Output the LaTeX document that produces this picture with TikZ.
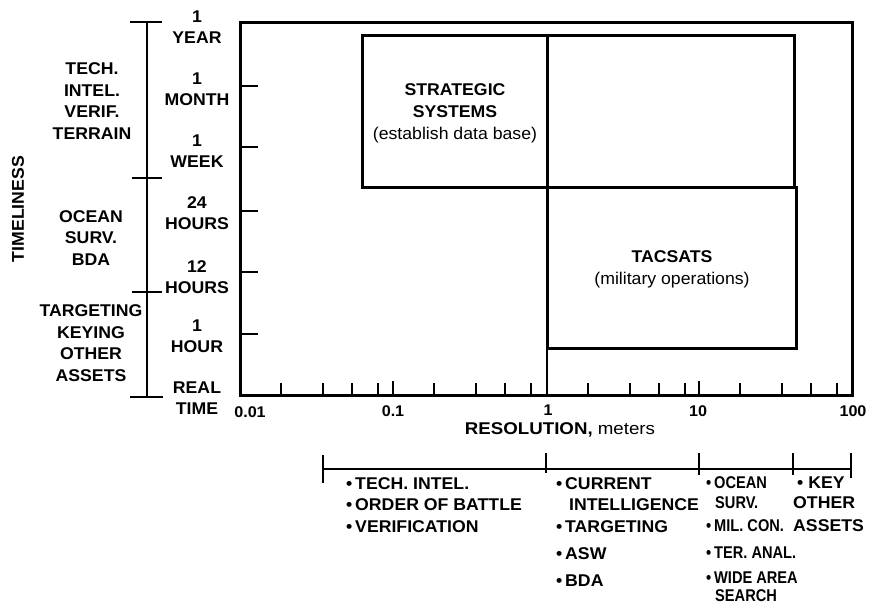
\documentclass[tikz,border=0pt]{standalone}
\usepackage{fontspec}
\setmainfont{Liberation Sans}
\newfontfamily\widesans[FakeStretch=1.04]{Liberation Sans}
\newfontfamily\narrowsans[FakeStretch=0.86]{Liberation Sans}
\newfontfamily\titlesans[FakeStretch=1.1]{Liberation Sans}
\begin{document}
\begin{tikzpicture}[x=1pt,y=-1pt,
  heavy/.style={line width=3pt},
  bracket/.style={line width=2.6pt},
  tick/.style={line width=1.3pt},
  lbl/.style={font=\widesans\bfseries\fontsize{17}{21.5}\selectfont, align=center, inner sep=0pt},
  boxtitle/.style={font=\widesans\bfseries\fontsize{17}{22}\selectfont, align=center, inner sep=0pt},
  boxnote/.style={font=\widesans\fontsize{17}{22}\selectfont, inner sep=0pt},
  num/.style={font=\widesans\bfseries\fontsize{15.5}{16}\selectfont, inner sep=0pt},
  item/.style={font=\widesans\bfseries\fontsize{17}{18}\selectfont, anchor=base west, inner sep=0pt},
  itemc/.style={font=\narrowsans\bfseries\fontsize{17}{18}\selectfont, anchor=base west, inner sep=0pt}]
\useasboundingbox (0,0) rectangle (884,606);

% vertical axis title
\node[lbl, rotate=90] (ytitle) at (18,209) {TIMELINESS};

% grouping bracket for timeliness classes
\draw[bracket] (147,22) -- (147,397);
\draw[bracket] (130,22) -- (162,22);
\draw[bracket] (132,178) -- (162,178);
\draw[bracket] (132,292) -- (162,292);
\draw[bracket] (130,397) -- (163,397);

\node[lbl] (gtech)  at (92,101) {TECH.\\INTEL.\\VERIF.\\TERRAIN};
\node[lbl] (gocean) at (91,238) {OCEAN\\SURV.\\BDA};
\node[lbl] (gtarg)  at (91,343) {TARGETING\\KEYING\\OTHER\\ASSETS};

% time scale labels
\node[lbl] (tyear)  at (197,27)  {1\\YEAR};
\node[lbl] (tmonth) at (197,89)  {1\\MONTH};
\node[lbl] (tweek)  at (197,151) {1\\WEEK};
\node[lbl] (t24)    at (197,213) {24\\HOURS};
\node[lbl] (t12)    at (197,277) {12\\HOURS};
\node[lbl] (thour)  at (197,336) {1\\HOUR};
\node[lbl] (treal)  at (197,398) {REAL\\TIME};

% plot frame
\draw[heavy] (240,22) rectangle (852,395);

% y ticks
\foreach \yy in {86,147,211,272,334}
  \draw[tick] (240,\yy) -- (258,\yy);

% x ticks: decades at 0.01, 0.1, 1, 10, 100
\foreach \dx in {240,393,547,699} {
  \foreach \off in {41,83,112,138}
    \draw[tick] (\dx+\off,395) -- (\dx+\off,383);
}
\draw[tick] (393,395) -- (393,381);
\draw[tick] (699,395) -- (699,381);

% x labels
\node[num] (x001) at (250,412) {0.01};
\node[num] (x01)  at (393,411) {0.1};
\node[num] (x1)   at (548,410) {1};
\node[num] (x10)  at (698,411) {10};
\node[num] (x100) at (853,411) {100};
\node[inner sep=0pt] (xtitle) at (560,430)
  {\titlesans\fontsize{17}{20}\selectfont\bfseries RESOLUTION,\mdseries\ meters};

% system regions
\draw[heavy] (362,35) rectangle (794,187);
\draw[heavy] (547,35) -- (547,187);
\draw[heavy] (547,187) rectangle (796,348);
\draw[line width=1.2pt] (547,348) -- (547,395);

\node[boxtitle] (strat) at (455,101) {STRATEGIC\\SYSTEMS};
\node[boxnote]  (stratn) at (455,135) {(establish data base)};
\node[boxtitle] (tac)  at (672,257) {TACSATS};
\node[boxnote]  (tacn) at (672,280) {(military operations)};

% mission bracket under the resolution axis
\draw[bracket] (323,469) -- (851,469);
\draw[bracket] (323,455) -- (323,483);
\draw[bracket] (546,453) -- (546,473);
\draw[bracket] (699,453) -- (699,475);
\draw[bracket] (793,453) -- (793,475);
\draw[bracket] (851,453) -- (851,478);

% missions, column 1
\node[item] (m11) at (346,489) {\textbullet\,TECH. INTEL.};
\node[item] (m12) at (346,510) {\textbullet\,ORDER OF BATTLE};
\node[item] (m13) at (346,532) {\textbullet\,VERIFICATION};
% column 2
\node[item] (m21) at (556,489) {\textbullet\,CURRENT};
\node[item] (m22) at (569,510) {INTELLIGENCE};
\node[item] (m23) at (556,532) {\textbullet\,TARGETING};
\node[item] (m24) at (556,559) {\textbullet\,ASW};
\node[item] (m25) at (556,586) {\textbullet\,BDA};
% column 3
\node[itemc] (m31) at (706,488) {\textbullet\,OCEAN};
\node[itemc] (m32) at (715,508) {SURV.};
\node[itemc] (m33) at (706,531) {\textbullet\,MIL. CON.};
\node[itemc] (m34) at (706,558) {\textbullet\,TER. ANAL.};
\node[itemc] (m35) at (706,583) {\textbullet\,WIDE AREA};
\node[itemc] (m36) at (715,601) {SEARCH};
% column 4
\node[item] (m41) at (797,488) {\textbullet\ KEY};
\node[item] (m42) at (793,508) {OTHER};
\node[item] (m43) at (793,531) {ASSETS};
\end{tikzpicture}
\end{document}
